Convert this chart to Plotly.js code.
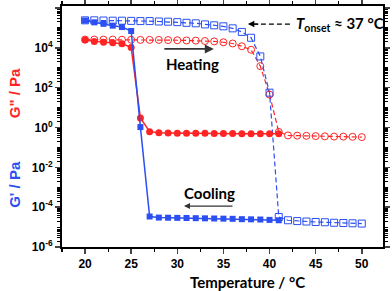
<!DOCTYPE html>
<html>
<head>
<meta charset="utf-8">
<script src="https://cdn.plot.ly/plotly-3.0.1.min.js"></script>
<style>
  html, body { margin: 0; padding: 0; background: #fff; }
  #chart { width: 392px; height: 291px; }
</style>
</head>
<body>
<div id="chart"></div>
<script>
    // heating run (open markers, dashed)
    const heatT = [20, 21, 22, 23, 24, 25, 26, 27, 28, 29, 30, 31, 32, 33, 34, 35, 36, 37, 38, 39, 40, 41, 42, 43, 44, 45, 46, 47, 48, 49, 50];
    const heatGp = [2.4e5, 2.4e5, 2.35e5, 2.3e5, 2.3e5, 2.25e5, 2.2e5, 2.2e5, 2.1e5, 2.05e5, 1.95e5, 1.8e5, 1.7e5, 1.5e5, 1.35e5, 1.2e5,
        9.5e4, 6.3e4, 3.2e4, 3.7e3, 56, 3.2e-5, 2.2e-5, 2.0e-5, 1.9e-5, 1.8e-5, 1.75e-5, 1.65e-5, 1.6e-5, 1.55e-5, 1.5e-5];
    const heatGpp = [2.6e4, 2.6e4, 2.6e4, 2.6e4, 2.55e4, 2.55e4, 2.5e4, 2.5e4, 2.5e4, 2.45e4, 2.4e4, 2.35e4, 2.3e4, 2.2e4, 2.1e4, 1.9e4,
        1.65e4, 1.2e4, 8e3, 1.2e3, 45, 0.6, 0.4, 0.39, 0.38, 0.37, 0.36, 0.35, 0.35, 0.34, 0.33];

    // cooling run (filled markers, solid)
    const coolT = [20, 21, 22, 23, 24, 25, 26, 27, 28, 29, 30, 31, 32, 33, 34, 35, 36, 37, 38, 39, 40, 41];
    const coolGp = [2.35e5, 1.9e5, 1.6e5, 1.3e5, 1.1e5, 7e4, 1.05, 3.4e-5, 3.0e-5, 2.95e-5, 2.9e-5, 2.85e-5, 2.8e-5, 2.75e-5, 2.7e-5,
        2.65e-5, 2.6e-5, 2.5e-5, 2.45e-5, 2.4e-5, 2.3e-5, 2.2e-5];
    const coolGpp = [2.5e4, 2.1e4, 1.9e4, 1.8e4, 1.6e4, 1.05e4, 3.0, 0.62, 0.54, 0.53, 0.52, 0.52, 0.51, 0.51, 0.5,
        0.5, 0.5, 0.49, 0.49, 0.48, 0.48, 0.48];

    const xTicks = [20, 25, 30, 35, 40, 45, 50];
    const yTicks = [1e-6, 1e-4, 1e-2, 1, 1e2, 1e4, 1e6];
    const yTickText = ['10<sup>-6</sup>', '10<sup>-4</sup>', '10<sup>-2</sup>', '10<sup>0</sup>', '10<sup>2</sup>', '10<sup>4</sup>', '10<sup>6</sup>'];

    // minor ticks: every 1..9 step inside each decade
    const yMinor = [];
    for (let e = -6; e < 6; e++) {
        for (let m = 1; m <= 9; m++) {
            if (m === 1 && e % 2 === 0) continue;
            yMinor.push(m * Math.pow(10, e));
        }
    }

    const BLUE = '#2b4ff2';
    const RED = '#ff2424';
    const AXIS_FONT = { family: 'Liberation Sans, Arial, sans-serif', size: 12, color: '#000', weight: 'bold' };
    const NOTE_FONT = { family: 'Lato, sans-serif', size: 15, color: '#000', weight: 'bold' };

    const traces = [
        { x: heatT, y: heatGpp, mode: 'lines+markers', line: { color: RED, width: 1.2, dash: '5px,3px' },
          marker: { symbol: 'circle-open', size: 7, color: RED, line: { width: 1 } } },
        { x: heatT, y: heatGp, mode: 'lines+markers', line: { color: BLUE, width: 1.2, dash: '5px,3px' },
          marker: { symbol: 'square-open', size: 7, color: BLUE, line: { width: 1 } } },
        { x: coolT, y: coolGpp, mode: 'lines+markers', line: { color: RED, width: 1.5 },
          marker: { symbol: 'circle', size: 7, color: RED } },
        { x: coolT, y: coolGp, mode: 'lines+markers', line: { color: BLUE, width: 1.5 },
          marker: { symbol: 'square', size: 6, color: BLUE } }
    ];

    const note = (x, y, text, font, extra) => Object.assign({
        xref: 'paper', yref: 'paper', x: x, y: y, text: text, showarrow: false,
        xanchor: 'center', yanchor: 'middle', font: font
    }, extra || {});

    const arrow = (x, y, ax, width, color) => ({
        xref: 'paper', yref: 'paper', x: x, y: y, ax: ax, ay: 0, text: '', showarrow: true,
        arrowhead: 2, arrowsize: 1, arrowwidth: width, arrowcolor: color
    });

    const layout = {
        width: 392, height: 291,
        margin: { l: 62, r: 9, t: 6, b: 44 },
        paper_bgcolor: '#fff', plot_bgcolor: '#fff',
        showlegend: false,
        xaxis: {
            range: [17.5, 52.3], tickvals: xTicks, ticks: 'outside', ticklen: 5, tickwidth: 1.5,
            showline: true, linewidth: 2, linecolor: '#000', mirror: 'ticks', showgrid: false, zeroline: false,
            tickfont: AXIS_FONT,
            minor: { dtick: 2.5, ticks: 'outside', ticklen: 3, tickwidth: 1.2, tickcolor: '#000' }
        },
        yaxis: {
            type: 'log', range: [-6, 6.1], tickvals: yTicks, ticktext: yTickText, ticks: 'outside', ticklen: 5, tickwidth: 1.5,
            showline: true, linewidth: 2, linecolor: '#000', mirror: 'ticks', showgrid: false, zeroline: false,
            tickfont: AXIS_FONT,
            minor: { tickmode: 'array', tickvals: yMinor, ticks: 'outside', ticklen: 3, tickwidth: 1, tickcolor: '#000' }
        },
        shapes: [
            { type: 'line', xref: 'paper', yref: 'paper', x0: 0.71, x1: 0.60, y0: 0.925, y1: 0.925,
              line: { color: '#000', width: 1.3, dash: '5px,3px' } }
        ],
        annotations: [
            note(-0.148, 0.64, 'G" / Pa', { family: 'Liberation Sans, Arial, sans-serif', size: 15, color: RED, weight: 'bold' }, { textangle: -90 }),
            note(-0.148, 0.26, "G' / Pa", { family: 'Liberation Sans, Arial, sans-serif', size: 15, color: BLUE, weight: 'bold' }, { textangle: -90 }),
            note(0.579, -0.145, 'Temperature / °C', NOTE_FONT),
            note(0.405, 0.759, 'Heating', NOTE_FONT),
            arrow(0.473, 0.822, -51, 1.8, '#333'),
            note(0.458, 0.224, 'Cooling', NOTE_FONT),
            arrow(0.380, 0.170, 50, 1.2, '#333'),
            note(0.866, 0.925, '<i>T</i><sub>onset</sub> ≈ 37 °C', NOTE_FONT),
            arrow(0.579, 0.925, 12, 1.3, '#000')
        ]
    };

    Plotly.newPlot('chart', traces, layout, { displayModeBar: false, staticPlot: true });
</script>
</body>
</html>
